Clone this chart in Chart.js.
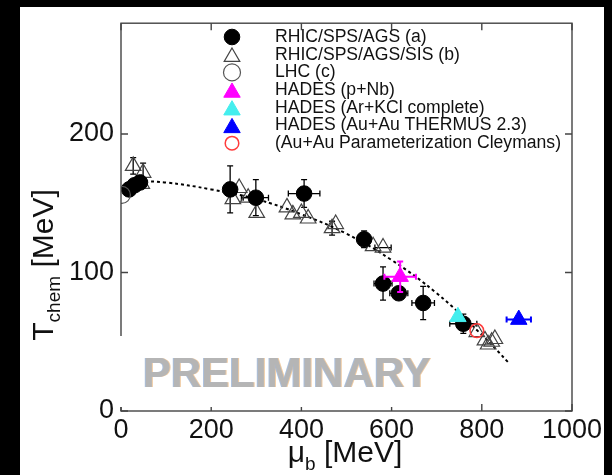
<!DOCTYPE html>
<html>
<head>
<meta charset="utf-8">
<script src="https://cdn.jsdelivr.net/npm/chart.js@4.4.0/dist/chart.umd.min.js"></script>
<style>
html, body { margin: 0; padding: 0; background: #000; }
canvas { display: block; }
</style>
</head>
<body>
<canvas id="chart" width="612" height="475"></canvas>
<script>
const xTicks = [0, 200, 400, 600, 800, 1000];
const yTicks = [0, 100, 200];

const seriesNames = ['RHIC/SPS/AGS (a)', 'RHIC/SPS/AGS/SIS (b)', 'LHC (c)', 'HADES (p+Nb)',
    'HADES (Ar+KCl complete)', 'HADES (Au+Au THERMUS 2.3)', '(Au+Au Parameterization Cleymans)'];

// RHIC/SPS/AGS (a)
const aMu = [18, 30, 42, 242, 299, 406, 539, 581, 616, 670, 759];
const aT = [160, 163, 165, 160, 154, 157, 124, 92, 85, 78, 63];
const aMuErr = [0, 0, 0, 0, 28, 35, 0, 20, 20, 25, 30];
const aTErr = [4, 4, 4, 17, 13, 10, 6, 12, 4, 12, 7];

// RHIC/SPS/AGS/SIS (b)
const bMu = [27, 49, 46, 248, 262, 282, 301, 368, 381, 400, 415, 468, 476, 559, 581, 789, 807, 814, 822, 829];
const bT = [177, 172, 164, 153, 161, 154, 143, 147, 142, 143, 139, 132, 135, 119, 118, 57, 51, 48, 50, 52];
const bMuErr = [0, 0, 0, 0, 0, 15, 0, 0, 0, 0, 0, 0, 0, 0, 18, 0, 0, 0, 0, 0];
const bTErr = [6, 7, 0, 0, 0, 0, 0, 0, 0, 0, 0, 5, 0, 0, 0, 0, 0, 0, 0, 0];

// LHC (c)
const lhcMu = [2];
const lhcT = [156];

// HADES
const pnbMu = [619], pnbT = [97], pnbMuErr = [35], pnbTErr = [11];
const arkclMu = [747], arkclT = [68];
const auauMu = [882], auauT = [66], auauMuErr = [27];

// Cleymans parameterization point and curve
const cleyMu = [789], cleyT = [58];
const curveMu = [40, 100, 200, 300, 400, 500, 600, 700, 800, 862];
const curveT = [166, 165, 160, 153, 142, 128, 109, 85, 55, 34];

const FONT = "'Liberation Sans', Arial, Helvetica, sans-serif";

function pts(xs, ys) {
    return xs.map((x, i) => ({ x: x, y: ys[i] }));
}

function drawMarker(ctx, style, r, x, y) {
    ctx.beginPath();
    if (style === 'triangle') {
        let a = 0;
        ctx.moveTo(x + Math.sin(a) * r, y - Math.cos(a) * r);
        a += 2 * Math.PI / 3;
        ctx.lineTo(x + Math.sin(a) * r, y - Math.cos(a) * r);
        a += 2 * Math.PI / 3;
        ctx.lineTo(x + Math.sin(a) * r, y - Math.cos(a) * r);
        ctx.closePath();
    } else {
        ctx.arc(x, y, r, 0, Math.PI * 2);
    }
    ctx.fill();
    ctx.stroke();
}

function drawErrors(chart, onTop) {
    const c = chart.ctx;
    const xs = chart.scales.x, ys = chart.scales.y;
    c.save();
    chart.data.datasets.forEach(ds => {
        if (!ds.xErr && !ds.yErr) return;
        if (!!ds.errOnTop !== onTop) return;
        c.strokeStyle = ds.errColor || '#000';
        c.lineWidth = ds.errWidth || 1.3;
        ds.data.forEach((p, j) => {
            const px = xs.getPixelForValue(p.x);
            const py = ys.getPixelForValue(p.y);
            const ex = ds.xErr ? ds.xErr[j] : 0;
            const ey = ds.yErr ? ds.yErr[j] : 0;
            c.beginPath();
            if (ex) {
                const x1 = xs.getPixelForValue(p.x - ex), x2 = xs.getPixelForValue(p.x + ex);
                c.moveTo(x1, py); c.lineTo(x2, py);
                c.moveTo(x1, py - 3); c.lineTo(x1, py + 3);
                c.moveTo(x2, py - 3); c.lineTo(x2, py + 3);
            }
            if (ey) {
                const y1 = ys.getPixelForValue(p.y - ey), y2 = ys.getPixelForValue(p.y + ey);
                c.moveTo(px, y1); c.lineTo(px, y2);
                c.moveTo(px - 3, y1); c.lineTo(px + 3, y1);
                c.moveTo(px - 3, y2); c.lineTo(px + 3, y2);
            }
            c.stroke();
        });
    });
    c.restore();
}

const decor = {
    id: 'decor',
    beforeDraw(chart) {
        const c = chart.ctx;
        c.save();
        c.fillStyle = '#000';
        c.fillRect(0, 0, chart.width, chart.height);
        c.fillStyle = '#fff';
        c.fillRect(20, 7, 584, 468);
        c.restore();
    },
    beforeDatasetsDraw(chart) {
        drawErrors(chart, false);
    },
    afterDatasetsDraw(chart) {
        drawErrors(chart, true);
    },
    afterDraw(chart) {
        const c = chart.ctx;
        const a = chart.chartArea;
        const xs = chart.scales.x, ys = chart.scales.y;
        c.save();

        // frame with inward ticks
        c.strokeStyle = '#444';
        c.lineWidth = 1.4;
        c.strokeRect(a.left, a.top, a.right - a.left, a.bottom - a.top);
        c.beginPath();
        xTicks.forEach(v => {
            const x = xs.getPixelForValue(v);
            c.moveTo(x, a.bottom); c.lineTo(x, a.bottom - 7);
            c.moveTo(x, a.top); c.lineTo(x, a.top + 7);
        });
        yTicks.forEach(v => {
            const y = ys.getPixelForValue(v);
            c.moveTo(a.left, y); c.lineTo(a.left + 7, y);
            c.moveTo(a.right, y); c.lineTo(a.right - 7, y);
        });
        c.stroke();

        // watermark
        c.fillStyle = '#fff';
        c.fillRect(a.left - 1, 336, 325, 71);
        c.font = 'bold 42px ' + FONT;
        c.textBaseline = 'alphabetic';
        c.textAlign = 'left';
        c.filter = 'blur(0.7px)';
        c.fillStyle = 'rgba(235,190,140,0.8)';
        c.fillText('PRELIMINARY', 144, 387);
        c.fillStyle = 'rgba(150,175,210,0.8)';
        c.fillText('PRELIMINARY', 142, 387);
        c.fillStyle = '#b5b5b5';
        c.fillText('PRELIMINARY', 143, 387);
        c.filter = 'none';

        // axis titles
        c.fillStyle = '#111';
        const big = '30px ' + FONT, small = '19px ' + FONT;
        c.font = big;
        const wT = c.measureText('T').width;
        const wM = c.measureText(' [MeV]').width;
        c.font = small;
        const wC = c.measureText('chem').width;
        const total = wT + wC + wM;
        c.translate(53, 265 + total / 2);
        c.rotate(-Math.PI / 2);
        c.font = big;
        c.fillText('T', 0, 0);
        c.font = small;
        c.fillText('chem', wT, 7);
        c.font = big;
        c.fillText(' [MeV]', wT + wC, 0);
        c.setTransform(1, 0, 0, 1, 0, 0);

        c.font = big;
        const wMu = c.measureText('\u03bc').width;
        const wMe = c.measureText(' [MeV]').width;
        c.font = small;
        const wB = c.measureText('b').width;
        let x0 = 345 - (wMu + wB + wMe) / 2;
        c.font = big;
        c.fillText('\u03bc', x0, 462);
        c.font = small;
        c.fillText('b', x0 + wMu, 470);
        c.font = big;
        c.fillText(' [MeV]', x0 + wMu + wB, 462);

        // legend
        c.font = '17.6px ' + FONT;
        c.textBaseline = 'middle';
        chart.data.datasets.forEach(ds => {
            if (ds.legendRow === undefined) return;
            const y = 37 + ds.legendRow * 17.7;
            c.fillStyle = ds.backgroundColor;
            c.strokeStyle = ds.borderColor;
            c.lineWidth = ds.borderWidth;
            const r = ds.pointRadius;
            drawMarker(c, ds.pointStyle, r, 232, ds.pointStyle === 'triangle' ? y + r / 4 : y);
            c.fillStyle = '#111';
            c.fillText(seriesNames[ds.legendRow], 275, y);
        });

        // right edge of the white sheet
        c.fillStyle = '#000';
        c.fillRect(604, 0, 8, chart.height);
        c.restore();
    }
};

const tickFont = { family: FONT, size: 27 };

new Chart(document.getElementById('chart'), {
    type: 'scatter',
    data: {
        datasets: [
            {
                data: pts(aMu, aT), xErr: aMuErr, yErr: aTErr, legendRow: 0, order: 1,
                pointStyle: 'circle', pointRadius: 7.8, backgroundColor: '#000', borderColor: '#000', borderWidth: 1,
            },
            {
                data: pts(bMu, bT), xErr: bMuErr, yErr: bTErr, legendRow: 1, order: 2,
                pointStyle: 'triangle', pointRadius: 9, backgroundColor: 'rgba(0,0,0,0)', borderColor: '#444', borderWidth: 1.2,
            },
            {
                data: pts(lhcMu, lhcT), legendRow: 2,
                pointStyle: 'circle', pointRadius: 8.5, backgroundColor: 'rgba(0,0,0,0)', borderColor: '#555', borderWidth: 1.2,
            },
            {
                data: pts(pnbMu, pnbT), xErr: pnbMuErr, yErr: pnbTErr, errColor: '#ff00ff', errWidth: 2, errOnTop: true, legendRow: 3,
                pointStyle: 'triangle', pointRadius: 9.5, backgroundColor: '#ff00ff', borderColor: '#ff00ff', borderWidth: 1,
            },
            {
                data: pts(arkclMu, arkclT), legendRow: 4,
                pointStyle: 'triangle', pointRadius: 9.5, backgroundColor: '#44eeee', borderColor: '#44eeee', borderWidth: 1,
            },
            {
                data: pts(auauMu, auauT), xErr: auauMuErr, errColor: '#0000ff', errWidth: 2, legendRow: 5,
                pointStyle: 'triangle', pointRadius: 9.5, backgroundColor: '#0000ff', borderColor: '#0000ff', borderWidth: 1,
            },
            {
                data: pts(cleyMu, cleyT), legendRow: 6,
                pointStyle: 'circle', pointRadius: 6.8, backgroundColor: 'rgba(0,0,0,0)', borderColor: '#ff3b3b', borderWidth: 1.5,
            },
            {
                data: pts(curveMu, curveT), showLine: true, pointRadius: 0, tension: 0.4, order: 3,
                borderColor: '#000', borderWidth: 2, borderDash: [3, 3], backgroundColor: 'rgba(0,0,0,0)',
            },
        ]
    },
    options: {
        responsive: false,
        animation: false,
        layout: { padding: { top: 21, right: 40, left: 0, bottom: 0 } },
        plugins: { legend: { display: false }, tooltip: { enabled: false } },
        scales: {
            x: {
                type: 'linear', min: 0, max: 1000,
                afterBuildTicks: s => { s.ticks = xTicks.map(v => ({ value: v })); },
                afterFit: s => { s.height = 64; },
                grid: { display: false, drawTicks: false },
                border: { display: false },
                ticks: { padding: 3, color: '#111', font: tickFont, maxRotation: 0, autoSkip: false, callback: v => String(v) }
            },
            y: {
                type: 'linear', min: 0, max: 280,
                afterBuildTicks: s => { s.ticks = yTicks.map(v => ({ value: v })); },
                afterFit: s => { s.width = 121; },
                grid: { display: false, drawTicks: false },
                border: { display: false },
                ticks: { padding: 7, color: '#111', font: tickFont, autoSkip: false, callback: v => String(v) }
            }
        }
    },
    plugins: [decor]
});
</script>
</body>
</html>
